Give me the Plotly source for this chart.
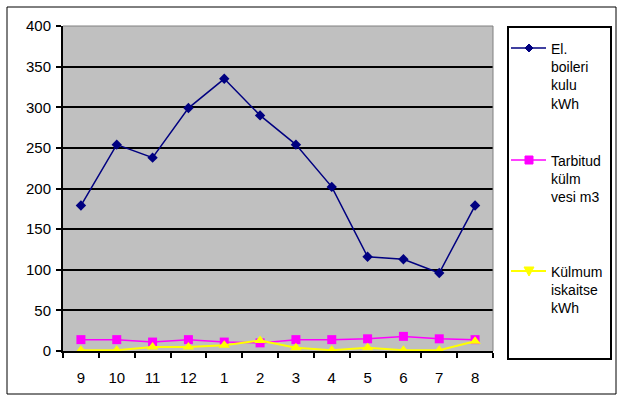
import plotly.graph_objects as go

months = ["9", "10", "11", "12", "1", "2", "3", "4", "5", "6", "7", "8"]
boiler = [179, 254, 238, 299, 335, 290, 254, 202, 116, 113, 96, 179]
water = [14, 14, 11, 14, 11, 10, 14, 14, 15, 18, 15, 14]
heat = [1, 1, 5, 5, 7, 13, 4, 1, 4, 1, 1, 12]
names = ["El.<br>boileri<br>kulu<br>kWh", "Tarbitud<br>külm<br>vesi m3", "Külmum<br>iskaitse<br>kWh"]
y_ticks = [0, 50, 100, 150, 200, 250, 300, 350, 400]

W, H = 619, 399
L, R, T, B = 63, 493, 26, 351

def px(x):
    return (x - L) / (R - L)

def py(y):
    return (B - y) / (B - T)

FONT = "Liberation Sans, Arial, sans-serif"
colors = ["#000080", "#FF00FF", "#FFFF00"]
symbols = ["diamond", "square", "triangle-up"]
sizes = [8, 9, 10]
widths = [1.5, 1.5, 2]
series = [boiler, water, heat]

fig = go.Figure()
for vals, c, s, sz, w in zip(series, colors, symbols, sizes, widths):
    fig.add_trace(go.Scatter(x=months, y=vals, mode="lines+markers",
                             line=dict(color=c, width=w),
                             marker=dict(symbol=s, size=sz, color=c),
                             showlegend=False, cliponaxis=False))

shapes = []
annotations = []
# outer frame
shapes.append(dict(type="rect", xref="paper", yref="paper",
                   x0=px(7), x1=px(616), y0=py(7), y1=py(394),
                   line=dict(color="black", width=1), layer="below"))
# plot top/right border
shapes.append(dict(type="path", xref="paper", yref="paper",
                   path=f"M {px(L)} {py(T)} L {px(R)} {py(T)} L {px(R)} {py(B)}",
                   line=dict(color="#808080", width=1)))
# legend box
shapes.append(dict(type="rect", xref="paper", yref="paper",
                   x0=px(508), x1=px(611), y0=py(27), y1=py(359),
                   line=dict(color="black", width=2)))

leg_y = [48, 160, 271]
marker_paths = {
    "diamond": "M -4 0 L 0 -4 L 4 0 L 0 4 Z",
    "square": "M -4 -4 L 4 -4 L 4 4 L -4 4 Z",
    "triangle-up": "M -5 4 L 0 -5 L 5 4 Z",
}
for yy, c, s, w, nm in zip(leg_y, colors, symbols, widths, names):
    shapes.append(dict(type="line", xref="paper", yref="paper",
                       x0=px(511), x1=px(546), y0=py(yy), y1=py(yy),
                       line=dict(color=c, width=w)))
    shapes.append(dict(type="path", xref="paper", yref="paper",
                       xsizemode="pixel", ysizemode="pixel",
                       xanchor=px(529), yanchor=py(yy),
                       path=marker_paths[s], fillcolor=c,
                       line=dict(color=c, width=1)))
    annotations.append(dict(xref="paper", yref="paper", x=px(549), y=py(yy - 9),
                            xanchor="left", yanchor="top", align="left",
                            text=nm, showarrow=False,
                            font=dict(family=FONT, size=14, color="black")))

fig.update_layout(
    width=W, height=H,
    margin=dict(l=L, r=W - R, t=T, b=H - B, pad=0),
    paper_bgcolor="white", plot_bgcolor="#C0C0C0",
    font=dict(family=FONT, size=15, color="black"),
    shapes=shapes, annotations=annotations,
    showlegend=False,
)
fig.update_xaxes(type="category", categoryorder="array", categoryarray=months,
                 range=[-0.5, 11.5], tickson="boundaries", ticks="outside",
                 ticklen=5, tickwidth=2, tickcolor="black",
                 showline=True, linecolor="black", linewidth=2,
                 showgrid=False, ticklabelstandoff=12,
                 tickfont=dict(family=FONT, size=15, color="black"))
fig.update_yaxes(range=[0, 400], tickvals=y_ticks, ticks="outside",
                 ticklen=5, tickwidth=2, tickcolor="black",
                 showline=True, linecolor="black", linewidth=2,
                 showgrid=False, zeroline=False, ticklabelstandoff=2,
                 minor=dict(tickvals=y_ticks[1:-1], showgrid=True,
                            gridcolor="black", gridwidth=2, ticks=""),
                 tickfont=dict(family=FONT, size=15, color="black"))

fig.write_html("out.html")
